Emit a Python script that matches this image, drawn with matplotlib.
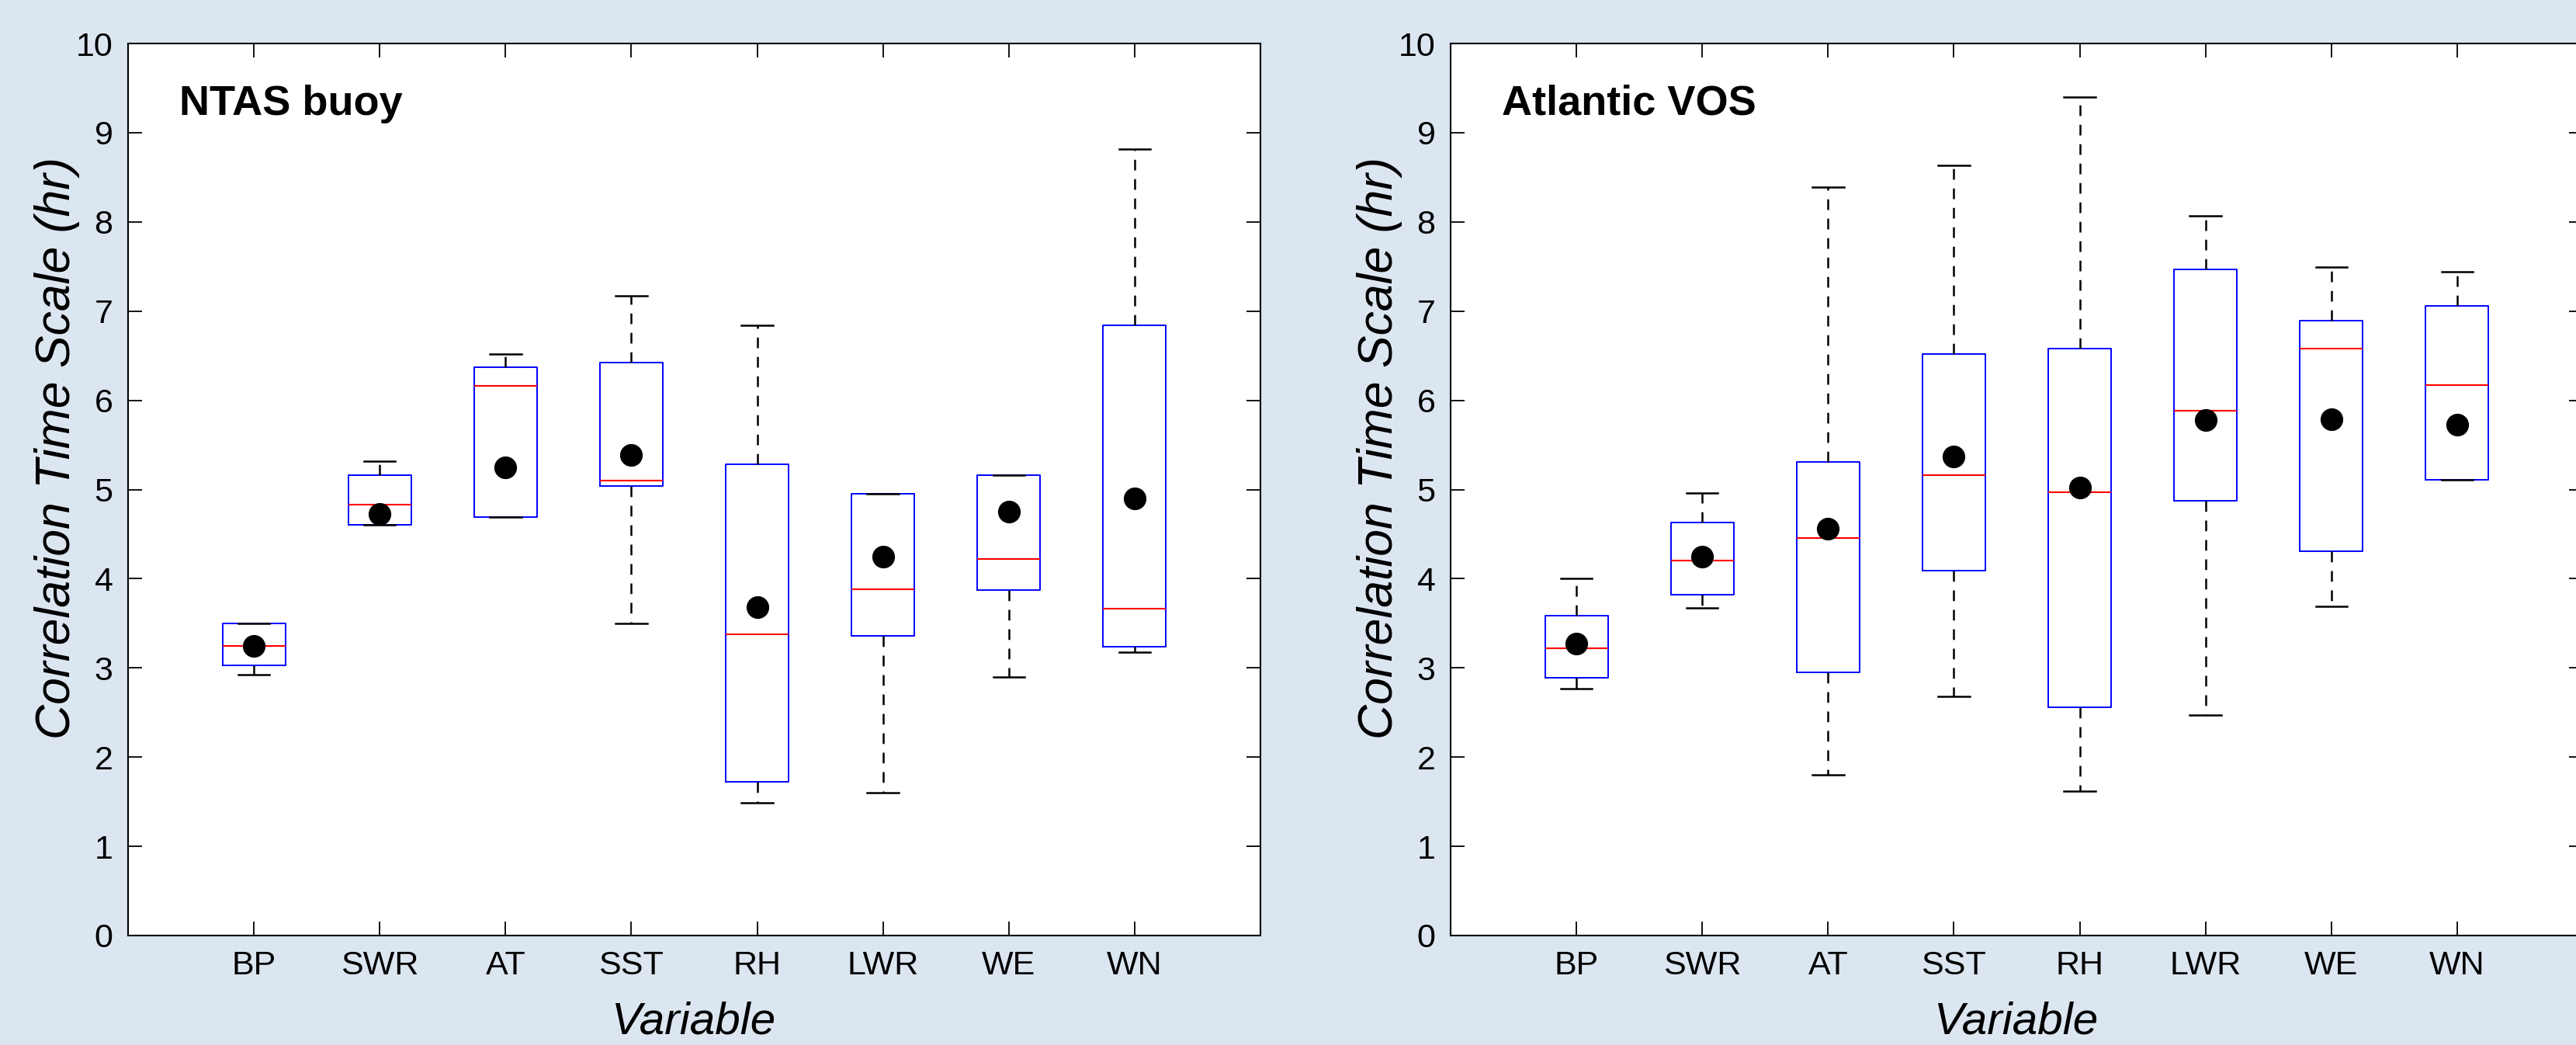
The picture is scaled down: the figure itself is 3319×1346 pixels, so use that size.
"""Correlation time scale box plots: NTAS buoy vs Atlantic VOS."""

import matplotlib.pyplot as plt

plt.rcParams["font.family"] = ["Liberation Sans", "DejaVu Sans"]

variables = ["BP", "SWR", "AT", "SST", "RH", "LWR", "WE", "WN"]

# NTAS buoy statistics (hr)
ntas_whislo = [2.92, 4.60, 4.69, 3.50, 1.49, 1.60, 2.90, 3.18]
ntas_q1 = [3.03, 4.60, 4.69, 5.04, 1.72, 3.36, 3.87, 3.24]
ntas_med = [3.25, 4.83, 6.16, 5.10, 3.38, 3.88, 4.22, 3.66]
ntas_q3 = [3.50, 5.16, 6.37, 6.42, 5.28, 4.95, 5.16, 6.84]
ntas_whishi = [3.50, 5.32, 6.52, 7.17, 6.84, 4.95, 5.16, 8.82]
ntas_mean = [3.25, 4.73, 5.25, 5.39, 3.68, 4.25, 4.75, 4.90]

# Atlantic VOS statistics (hr)
vos_whislo = [2.77, 3.67, 1.80, 2.68, 1.62, 2.47, 3.69, 5.11]
vos_q1 = [2.89, 3.82, 2.95, 4.09, 2.56, 4.87, 4.31, 5.11]
vos_med = [3.22, 4.20, 4.46, 5.16, 4.97, 5.88, 6.58, 6.17]
vos_q3 = [3.59, 4.63, 5.31, 6.52, 6.58, 7.47, 6.89, 7.06]
vos_whishi = [4.00, 4.96, 8.39, 8.63, 9.40, 8.07, 7.49, 7.44]
vos_mean = [3.27, 4.25, 4.56, 5.37, 5.02, 5.78, 5.79, 5.73]

BG = "#dce6f1"


def draw_panel(ax, title, whislo, q1, med, q3, whishi, mean):
    stats = []
    for i in range(len(variables)):
        stats.append(
            {
                "label": variables[i],
                "whislo": whislo[i],
                "q1": q1[i],
                "med": med[i],
                "q3": q3[i],
                "whishi": whishi[i],
                "mean": mean[i],
                "fliers": [],
            }
        )
    positions = list(range(1, len(variables) + 1))
    ax.bxp(
        stats,
        positions=positions,
        widths=0.5,
        showmeans=True,
        showfliers=False,
        capwidths=0.25,
        boxprops=dict(color="blue", linewidth=1.4),
        medianprops=dict(color="red", linewidth=1.5),
        whiskerprops=dict(color="black", linewidth=1.8, linestyle=(0, (5.5, 4.5))),
        capprops=dict(color="black", linewidth=1.8),
        meanprops=dict(marker="o", markerfacecolor="black",
                       markeredgecolor="black", markersize=20),
    )
    ax.set_xlim(0, 9)
    ax.set_ylim(0, 10)
    ax.set_yticks(range(0, 11))
    ax.set_xticks(positions)
    ax.set_xticklabels(variables)
    ax.tick_params(direction="in", length=13, width=1.3, labelsize=31,
                   top=True, right=True, pad=14)
    for s in ax.spines.values():
        s.set_linewidth(1.5)
    ax.set_ylabel("Correlation Time Scale (hr)", fontsize=45, style="italic")
    ax.yaxis.set_label_coords(-0.0425, 0.5466)
    ax.set_xlabel("Variable", fontsize=42, style="italic", labelpad=18)
    ax.text(0.045, 0.92, title, transform=ax.transAxes, fontsize=39,
            fontweight="bold", va="baseline", ha="left")


fig = plt.figure(figsize=(33.19, 13.46), dpi=100, facecolor=BG)
ax1 = fig.add_axes([165 / 3319, 1 - 1205 / 1346, 1459 / 3319, 1149 / 1346])
ax2 = fig.add_axes([1869 / 3319, 1 - 1205 / 1346, 1459 / 3319, 1149 / 1346])

draw_panel(ax1, "NTAS buoy", ntas_whislo, ntas_q1, ntas_med, ntas_q3,
           ntas_whishi, ntas_mean)
draw_panel(ax2, "Atlantic VOS", vos_whislo, vos_q1, vos_med, vos_q3,
           vos_whishi, vos_mean)

fig.savefig("out.png", dpi=100, facecolor=BG)
